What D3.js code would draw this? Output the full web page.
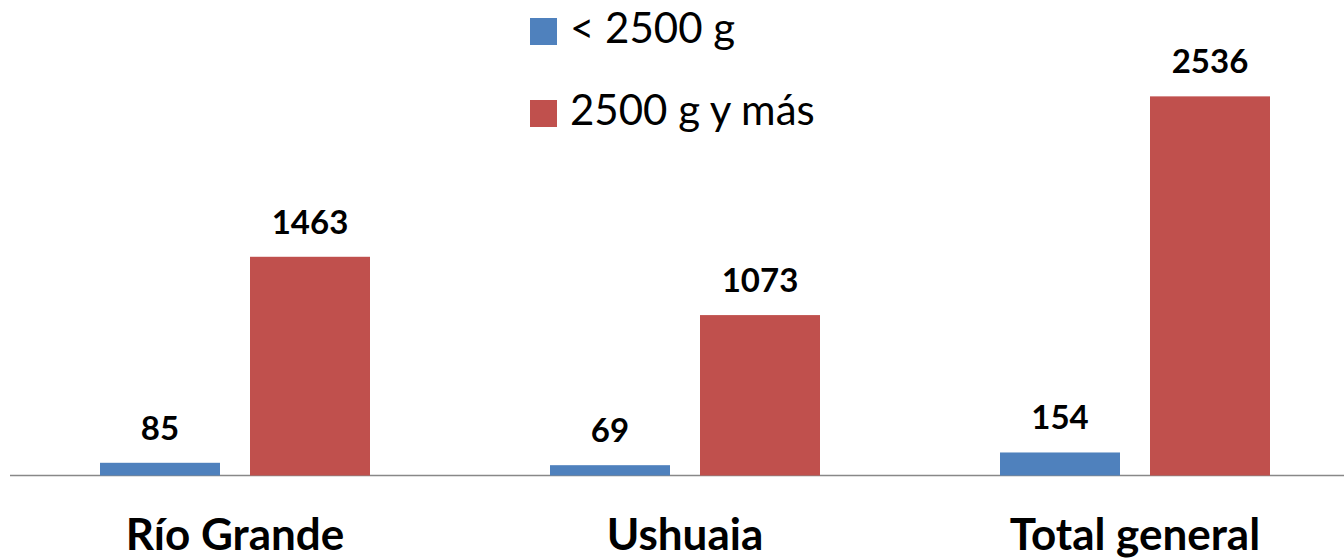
<!DOCTYPE html>
<html>
<head>
<meta charset="utf-8">
<script src="https://cdn.jsdelivr.net/npm/d3@7"></script>
<style>
body { margin: 0; background: #fff; }
</style>
</head>
<body>
<script>
var categories = ["Río Grande", "Ushuaia", "Total general"];
var seriesNames = ["< 2500 g", "2500 g y más"];
var lowWeight = [85, 69, 154];
var normalWeight = [1463, 1073, 2536];
var colors = ["#4f81bd", "#c0504d"];

function main(){
	var w = 1344;
	var h = 558;
	var font = "Lato, 'Open Sans', sans-serif";

	var svg = d3.select("body")
				.append("svg")
				.attr("width", w)
				.attr("height", h);

	var data = categories.map(function(c, i){
		return {cat: c, values: [lowWeight[i], normalWeight[i]]};
	});

	var x = d3.scaleBand()
				.domain(categories)
				.range([10, 1360]);

	// two bars per category, 120 wide with a 30 gap
	var xInner = d3.scaleBand()
				.domain([0, 1])
				.range([90, 360])
				.paddingInner(0.2);

	var y = d3.scaleLinear()
				.domain([0, 3000])
				.range([475.5, 27]);

	svg.append("line")
		.attr("x1", 10)
		.attr("x2", w)
		.attr("y1", y(0))
		.attr("y2", y(0))
		.attr("stroke", "#888")
		.attr("stroke-width", 1.5);

	var groups = svg.selectAll("g.cat")
					.data(data)
					.enter()
					.append("g")
					.attr("class", "cat")
					.attr("transform", function(d){ return "translate(" + x(d.cat) + ",0)"; });

	var bars = groups.selectAll("g.bar")
					.data(function(d){ return d.values.map(function(v, i){ return {v: v, s: i}; }); })
					.enter()
					.append("g")
					.attr("class", "bar");

	bars.append("rect")
		.attr("x", function(d){ return xInner(d.s); })
		.attr("width", xInner.bandwidth())
		.attr("y", function(d){ return y(d.v); })
		.attr("height", function(d){ return y(0) - y(d.v); })
		.attr("fill", function(d){ return colors[d.s]; });

	bars.append("text")
		.attr("x", function(d){ return xInner(d.s) + xInner.bandwidth() / 2; })
		.attr("y", function(d){ return y(d.v) - 23; })
		.attr("text-anchor", "middle")
		.attr("font-family", font)
		.attr("font-weight", "bold")
		.attr("font-size", 33)
		.text(function(d){ return d.v; });

	groups.append("text")
		.attr("x", x.bandwidth() / 2)
		.attr("y", 550)
		.attr("text-anchor", "middle")
		.attr("font-family", font)
		.attr("font-weight", "bold")
		.attr("font-size", 44)
		.text(function(d){ return d.cat; });

	// legend
	var legend = svg.selectAll("g.legend")
					.data(seriesNames)
					.enter()
					.append("g")
					.attr("class", "legend")
					.attr("transform", function(d, i){ return "translate(530," + (18 + i * 82) + ")"; });

	legend.append("rect")
		.attr("width", 27)
		.attr("height", 27)
		.attr("fill", function(d, i){ return colors[i]; });

	legend.append("text")
		.attr("x", 40)
		.attr("y", 25)
		.attr("font-family", font)
		.attr("font-size", 42)
		.text(function(d){ return d; });
}

main();
</script>
</body>
</html>
